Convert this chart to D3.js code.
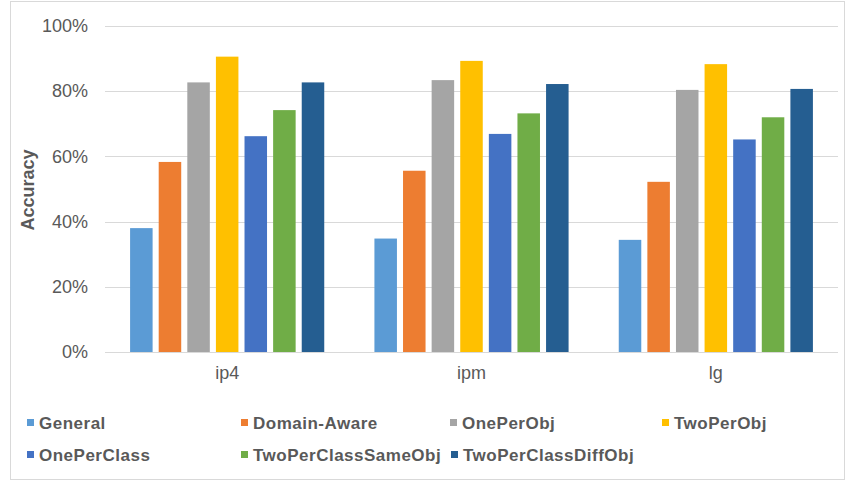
<!DOCTYPE html>
<html>
<head>
<meta charset="utf-8">
<script src="https://cdn.jsdelivr.net/npm/d3@7"></script>
<style>
  html, body { margin: 0; padding: 0; background: #fff; }
  svg { display: block; }
  text { font-family: "Liberation Sans", Arial, sans-serif; }
</style>
</head>
<body>
<svg id="chart" width="849" height="483"></svg>
<script>
const categories = ["ip4", "ipm", "lg"];
const seriesNames = ["General", "Domain-Aware", "OnePerObj", "TwoPerObj", "OnePerClass", "TwoPerClassSameObj", "TwoPerClassDiffObj"];
const seriesColors = ["#5B9BD5", "#ED7D31", "#A5A5A5", "#FFC000", "#4472C4", "#70AD47", "#255E91"];
const General            = [38.0, 34.8, 34.4];
const DomainAware        = [58.3, 55.6, 52.2];
const OnePerObj          = [82.7, 83.4, 80.4];
const TwoPerObj          = [90.6, 89.3, 88.3];
const OnePerClass        = [66.2, 66.9, 65.2];
const TwoPerClassSameObj = [74.2, 73.2, 72.0];
const TwoPerClassDiffObj = [82.7, 82.2, 80.7];
const yTicks = [0, 20, 40, 60, 80, 100];

const seriesValues = [General, DomainAware, OnePerObj, TwoPerObj, OnePerClass, TwoPerClassSameObj, TwoPerClassDiffObj];

const svg = d3.select("#chart");

// outer border
svg.append("rect").attr("x", 10.5).attr("y", 1.5).attr("width", 834).attr("height", 478)
  .attr("fill", "#fff").attr("stroke", "#D9D9D9").attr("stroke-width", 1);

const plot = { left: 105, right: 838, top: 26, bottom: 352 };

const y = d3.scaleLinear().domain([0, 100]).range([plot.bottom, plot.top]);
const x0 = d3.scaleBand().domain(categories).range([plot.left, plot.right]).padding(0);
const x1 = d3.scaleBand().domain(seriesNames).range([0, x0.bandwidth()])
  .paddingInner(0.213).paddingOuter(0.877);

// gridlines
svg.append("g").selectAll("line").data(yTicks).join("line")
  .attr("x1", plot.left).attr("x2", plot.right)
  .attr("y1", d => Math.round(y(d)) + 0.5).attr("y2", d => Math.round(y(d)) + 0.5)
  .attr("stroke", "#D9D9D9").attr("stroke-width", 1);

// y axis labels
const yAxis = d3.axisLeft(y).tickValues(yTicks).tickFormat(d => d + "%").tickSize(0).tickPadding(0);
const yg = svg.append("g").attr("transform", `translate(88,0)`).call(yAxis);
yg.select(".domain").remove();
yg.selectAll("text").attr("fill", "#595959").style("font-size", "18px")
  .attr("font-family", "Liberation Sans, Arial, sans-serif");

// bars
const groups = svg.append("g").selectAll("g").data(categories).join("g")
  .attr("transform", d => `translate(${x0(d)},0)`);
groups.selectAll("rect")
  .data((c, ci) => seriesNames.map((s, si) => ({ s, si, v: seriesValues[si][ci] })))
  .join("rect")
  .attr("x", d => x1(d.s))
  .attr("width", x1.bandwidth())
  .attr("y", d => y(d.v))
  .attr("height", d => y(0) - y(d.v))
  .attr("fill", d => seriesColors[d.si]);

// x axis
const xAxis = d3.axisBottom(x0).tickSize(0).tickPadding(0);
const xg = svg.append("g").attr("transform", `translate(0,${plot.bottom})`).call(xAxis);
xg.select(".domain").attr("stroke", "#D9D9D9").attr("d", `M${plot.left},0.5H${plot.right}`);
xg.selectAll("text").attr("fill", "#595959").style("font-size", "18px").attr("dy", "1.05em")
  .attr("y", 8)
  .attr("font-family", "Liberation Sans, Arial, sans-serif");

// y title
svg.append("text")
  .attr("transform", `translate(34,190) rotate(-90)`)
  .attr("text-anchor", "middle")
  .attr("fill", "#595959")
  .style("font-size", "18px").style("font-weight", "bold")
  .text("Accuracy");

// legend
const legendPos = [
  [27, 423], [241, 423], [450, 423], [662, 423],
  [27, 455], [241, 455], [451, 455]
];
const lg = svg.append("g").selectAll("g").data(seriesNames).join("g")
  .attr("transform", (d, i) => `translate(${legendPos[i][0]},${legendPos[i][1]})`);
lg.append("rect").attr("x", 0).attr("y", -4).attr("width", 7).attr("height", 7)
  .attr("fill", (d, i) => seriesColors[i]);
lg.append("text").attr("x", 12).attr("y", 0).attr("dy", "0.35em")
  .attr("fill", "#595959").style("font-size", "17px").style("font-weight", "bold")
  .style("letter-spacing", "0.5px")
  .text(d => d);
</script>
</body>
</html>
